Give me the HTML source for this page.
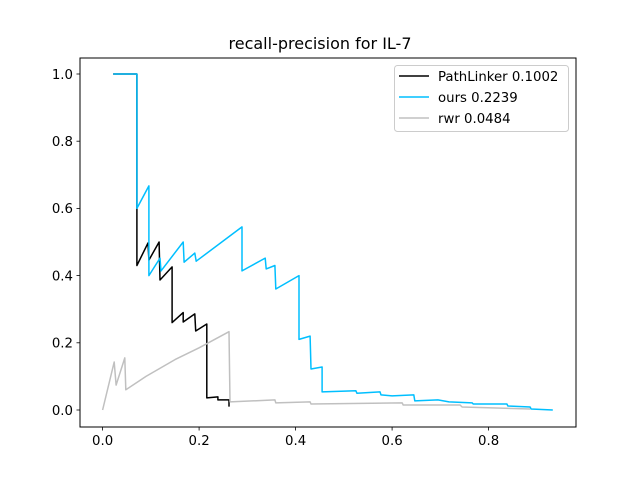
<!DOCTYPE html>
<html><head><meta charset="utf-8"><style>
body{margin:0;background:#fff}
svg text{font-family:"DejaVu Sans","Liberation Sans",sans-serif;fill:#000}
</style></head><body>
<svg id="chart" width="640" height="480" xmlns="http://www.w3.org/2000/svg">
<rect width="640" height="480" fill="#fff"/>
<text x="320" y="49" font-size="16" text-anchor="middle">recall-precision for IL-7</text>
<g id="plot"></g>
<rect x="80" y="58" width="496" height="369" fill="none" stroke="#000" stroke-width="1"/>
<g id="ticks"></g>
<g>
<rect x="394.5" y="65.5" width="174" height="66" rx="3" fill="#fff" fill-opacity="0.8" stroke="#ccc"/>
<line x1="399" y1="76" x2="429" y2="76" stroke="#000" stroke-width="1.5"/>
<text x="438" y="81" font-size="13.3">PathLinker 0.1002</text>
<line x1="399" y1="97" x2="429" y2="97" stroke="#00bfff" stroke-width="1.5"/>
<text x="438" y="102" font-size="13.3">ours 0.2239</text>
<line x1="399" y1="118" x2="429" y2="118" stroke="#c0c0c0" stroke-width="1.5"/>
<text x="438" y="123" font-size="13.3">rwr 0.0484</text>
</g>
</svg>
<script>
const xTicks=[0.0,0.2,0.4,0.6,0.8];
const xTickLabels=["0.0","0.2","0.4","0.6","0.8"];
const yTicks=[0.0,0.2,0.4,0.6,0.8,1.0];
const yTickLabels=["0.0","0.2","0.4","0.6","0.8","1.0"];
const pathlinkerRecall=[0.022,0.071,0.071,0.094,0.096,0.117,0.119,0.144,0.144,0.167,0.167,0.191,0.193,0.216,0.216,0.239,0.239,0.262,0.262];
const pathlinkerPrecision=[1,1,0.43,0.497,0.446,0.5,0.387,0.426,0.26,0.29,0.262,0.286,0.235,0.256,0.036,0.039,0.03,0.03,0.01];
const oursRecall=[0.022,0.071,0.071,0.096,0.096,0.119,0.121,0.167,0.169,0.191,0.194,0.289,0.289,0.337,0.339,0.357,0.359,0.407,0.407,0.43,0.432,0.455,0.455,0.525,0.527,0.575,0.577,0.6,0.645,0.647,0.695,0.718,0.766,0.768,0.838,0.84,0.886,0.888,0.933];
const oursPrecision=[1,1,0.6,0.667,0.4,0.452,0.414,0.5,0.44,0.467,0.443,0.545,0.414,0.452,0.42,0.43,0.36,0.4,0.21,0.22,0.122,0.128,0.054,0.057,0.05,0.054,0.045,0.042,0.045,0.027,0.03,0.024,0.021,0.018,0.018,0.012,0.009,0.003,0.0];
const rwrRecall=[0,0.024,0.028,0.046,0.048,0.09,0.15,0.2,0.262,0.264,0.357,0.359,0.43,0.432,0.621,0.623,0.741,0.745,0.886];
const rwrPrecision=[0,0.143,0.074,0.155,0.06,0.1,0.15,0.185,0.233,0.024,0.03,0.021,0.024,0.018,0.021,0.015,0.015,0.009,0.003];

const NS="http://www.w3.org/2000/svg";
function xs(v){return 102.6+v*482.5;}
function ys(v){return 410-v*336;}
const plot=document.getElementById('plot');
const ticks=document.getElementById('ticks');
function mk(tag,attrs,parent){const e=document.createElementNS(NS,tag);for(const k in attrs)e.setAttribute(k,attrs[k]);parent.appendChild(e);return e;}

xTicks.forEach((t,i)=>{
  const l=mk('line',{x1:xs(t),x2:xs(t),y1:427,y2:430.5,stroke:'#000','stroke-width':0.8},ticks);
  
  
  const tx=mk('text',{x:xs(t),y:445,'font-size':13.3,'text-anchor':'middle'},ticks);
  tx.textContent=xTickLabels[i];
  
  
});
yTicks.forEach((t,i)=>{
  const l=mk('line',{x1:76.5,x2:80,y1:ys(t),y2:ys(t),stroke:'#000','stroke-width':0.8},ticks);
  
  
  const tx=mk('text',{x:73,y:ys(t)+4.8,'font-size':13.3,'text-anchor':'end'},ticks);
  tx.textContent=yTickLabels[i];
  
  
});
function series(rx,py,color,name){
  const d=rx.map((r,i)=>(i?'L':'M')+xs(r).toFixed(1)+' '+ys(py[i]).toFixed(1)).join(' ');
  const p=mk('path',{d:d,fill:'none',stroke:color,'stroke-width':1.5,'stroke-linejoin':'round'},plot);
  
  
}
series(pathlinkerRecall,pathlinkerPrecision,'#000000','pathlinker-line');
series(oursRecall,oursPrecision,'#00bfff','ours-line');
series(rwrRecall,rwrPrecision,'#c0c0c0','rwr-line');
</script>
</body></html>
